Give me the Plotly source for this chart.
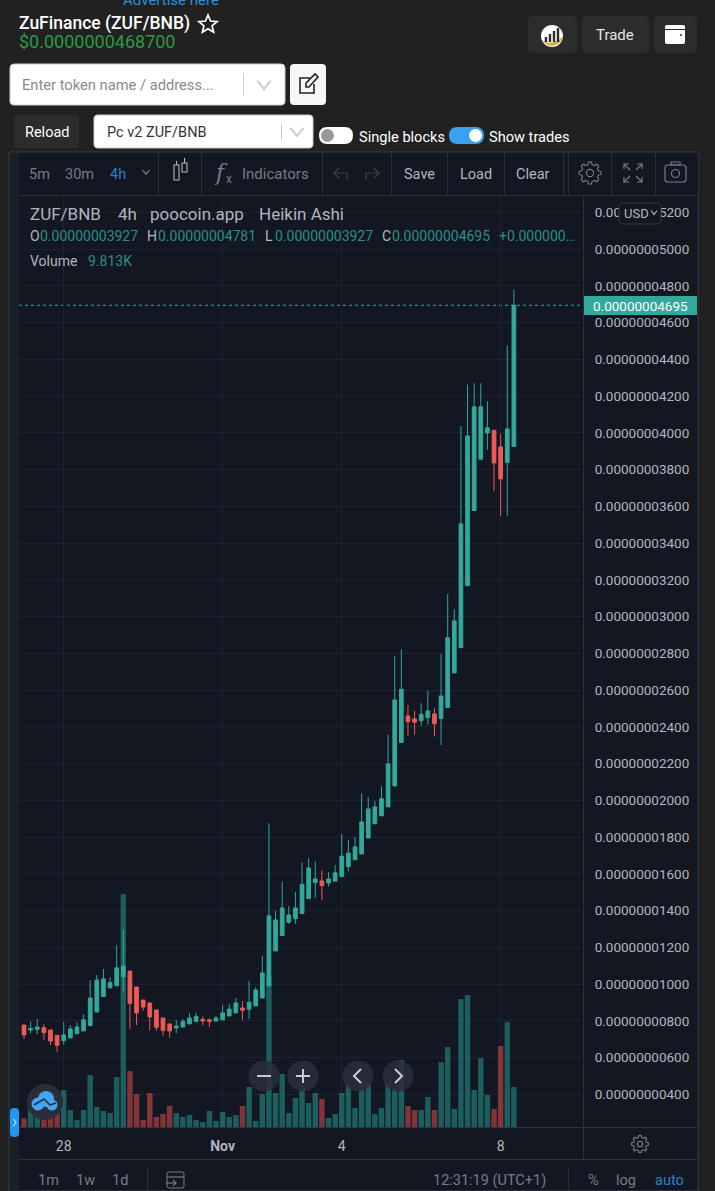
import math
import plotly.graph_objects as go

W, H = 715, 1191

# Prices in units of 1e-11 BNB, one candle every 4h
candle_open = [778, 751, 755, 764, 751, 722, 693, 708, 731, 746, 775, 849, 933, 980, 992, 1041, 1072, 985, 914, 898,
               860, 816, 784, 762, 767, 784, 798, 809, 806, 800, 806, 827, 844, 871, 864, 882, 925, 991, 1181, 1265,
               1337, 1356, 1385, 1466, 1553, 1562, 1551, 1561, 1586, 1640, 1677, 1709, 1796, 1873, 1916, 1965, 2079,
               2315, 2460, 2444, 2435, 2451, 2471, 2446, 2506, 2694, 2832, 3169, 3578, 3857, 4000, 4015, 3924, 3839,
               3927]
candle_high = [778, 797, 811, 782, 751, 722, 793, 778, 793, 836, 1023, 1050, 1083, 1038, 1212, 1295, 1072, 985, 914,
               898, 860, 816, 784, 806, 811, 842, 845, 824, 815, 827, 887, 893, 925, 909, 1018, 983, 1154, 1876, 1401,
               1559, 1426, 1502, 1662, 1686, 1668, 1619, 1610, 1649, 1816, 1785, 1800, 2039, 2018, 1998, 2076, 2357,
               2787, 2823, 2520, 2487, 2529, 2596, 2502, 2798, 3124, 3041, 4038, 4263, 4271, 4271, 4173, 4015, 3995,
               4477, 4781]
candle_low = [702, 733, 729, 697, 670, 631, 670, 708, 731, 746, 775, 849, 933, 980, 992, 960, 757, 778, 856, 749,
              747, 720, 708, 733, 767, 784, 798, 775, 767, 800, 806, 827, 844, 806, 811, 882, 925, 991, 1181, 1265,
              1328, 1327, 1385, 1466, 1470, 1459, 1532, 1561, 1586, 1613, 1677, 1709, 1796, 1873, 1916, 1965, 2079,
              2315, 2351, 2357, 2406, 2413, 2348, 2302, 2506, 2694, 2832, 3169, 3578, 3857, 3908, 3683, 3549, 3549,
              3927]
candle_close = [724, 760, 767, 737, 691, 668, 724, 757, 767, 806, 925, 1023, 1029, 1009, 1089, 1099, 896, 844, 876,
                822, 766, 749, 746, 773, 797, 816, 824, 800, 798, 816, 844, 865, 898, 858, 902, 969, 1061, 1372, 1350,
                1415, 1377, 1415, 1544, 1633, 1573, 1537, 1573, 1606, 1697, 1713, 1747, 1883, 1954, 1965, 2009, 2199,
                2547, 2605, 2429, 2426, 2469, 2487, 2417, 2569, 2885, 2977, 3505, 3984, 4142, 4142, 4028, 3837, 3750,
                4022, 4695]

# Volume in thousands
volumes = [2.13, 4.41, 3.68, 1.96, 2.21, 3.43, 9.07, 4.17, 1.72, 4.17, 12.74, 4.9, 3.92, 3.43, 12.25, 57.1, 13.72,
           8.09, 1.72, 8.33, 2.45, 3.19, 5.15, 3.43, 2.45, 2.94, 1.72, 1.23, 3.92, 1.47, 3.68, 2.45, 2.94, 5.15, 9.81,
           1.47, 8.09, 36.8, 8.33, 13.0, 3.43, 7.11, 10.5, 5.88, 8.33, 6.86, 2.21, 3.19, 8.33, 10.3, 4.66, 11.5, 11.0,
           3.19, 4.66, 10.8, 9.56, 16.4, 5.15, 4.17, 4.17, 7.36, 4.17, 15.9, 19.6, 4.41, 31.4, 32.4, 9.07, 16.9, 7.85,
           4.41, 19.9, 25.7, 9.813]
volume_down = [0, 3, 4, 5, 16, 17, 18, 19, 20, 21, 22, 33, 45, 58, 59, 62, 71, 72]

price_ticks = list(range(400, 5400, 200))
date_ticks = [6, 30, 48, 72]
date_labels = ['28', '<b>Nov</b>', '4', '8']

BG = '#212121'
PANEL = '#131722'
GRID = '#1f2330'
SEP = '#2a2e39'
TEXT = '#b2b5be'
DIM = '#787b86'
UP = '#33a89b'
DOWN = '#ee5a56'
BLUE = '#2a7fd0'
FONT = 'Roboto'

shapes = []
labels = []


def pt(x, y):
    return f'{x / W:.5f} {1 - y / H:.5f}'


def path(d, fill=None, line=None, width=1.2, layer='above'):
    shapes.append(dict(type='path', path=d, xref='paper', yref='paper', layer=layer,
                       fillcolor=fill or 'rgba(0,0,0,0)', line=dict(color=line or 'rgba(0,0,0,0)', width=width)))


def poly(points, fill=None, line=None, width=1.2, close=False):
    d = 'M' + ' L'.join(pt(x, y) for x, y in points) + (' Z' if close else '')
    path(d, fill, line, width)


def box(x0, y0, x1, y1, fill=None, line=None, radius=0, width=1, layer='above'):
    r = radius
    d = (f'M{pt(x0 + r, y0)} L{pt(x1 - r, y0)} Q{pt(x1, y0)} {pt(x1, y0 + r)} L{pt(x1, y1 - r)} '
         f'Q{pt(x1, y1)} {pt(x1 - r, y1)} L{pt(x0 + r, y1)} Q{pt(x0, y1)} {pt(x0, y1 - r)} '
         f'L{pt(x0, y0 + r)} Q{pt(x0, y0)} {pt(x0 + r, y0)} Z')
    path(d, fill, line, width, layer)


def circle(cx, cy, r, fill=None, line=None, width=1):
    shapes.append(dict(type='circle', xref='paper', yref='paper', layer='above',
                       x0=(cx - r) / W, x1=(cx + r) / W, y0=1 - (cy + r) / H, y1=1 - (cy - r) / H,
                       fillcolor=fill or 'rgba(0,0,0,0)', line=dict(color=line or 'rgba(0,0,0,0)', width=width)))


def label(text, x, y, size=14, color=TEXT, anchor='left', weight=400, family=FONT):
    labels.append(dict(text=text, x=x / W, y=1 - y / H, xref='paper', yref='paper', showarrow=False,
                       xanchor=anchor, yanchor='middle', borderpad=0,
                       font=dict(family=family, size=size, color=color, weight=weight)))


def chevron(cx, cy, w, h, color, width=1.5):
    poly([(cx - w, cy - h), (cx, cy + h), (cx + w, cy - h)], line=color, width=width)


def gear(cx, cy, r, color):
    points = []
    for k in range(48):
        rad = r if k % 6 in (0, 1, 2) else r * 0.78
        a = 2 * math.pi * (k - 1) / 48
        points.append((cx + rad * math.cos(a), cy + rad * math.sin(a)))
    poly(points, line=color, width=1.1, close=True)
    circle(cx, cy, r * 0.33, line=color, width=1.1)


def star(cx, cy, r, color):
    points = []
    for k in range(10):
        rad = r if k % 2 == 0 else r * 0.45
        a = -math.pi / 2 + k * math.pi / 5
        points.append((cx + rad * math.cos(a), cy + rad * math.sin(a)))
    poly(points, line=color, width=1.7, close=True)


# chart frame, behind the traces
box(9, 152, 698, 1191, fill=PANEL, line='#3a3e48', layer='below')
box(10, 153, 19, 1191, fill='#1a2029', layer='below')

# page header
label('Advertise here', 122, 0, 15, '#2f8fd8')
label('ZuFinance (ZUF/BNB)', 18, 24, 17.5, 'white', weight=500)
star(208, 24.5, 9.5, 'white')
label('$0.0000000468700', 18, 42, 18, '#2c9a45')
box(528, 16, 577, 53, fill='#2c2c2c', radius=5)
box(582, 16, 649, 53, fill='#2c2c2c', radius=5)
box(654, 16, 697, 53, fill='#2c2c2c', radius=5)
circle(552, 36, 11, fill='white')
path(f'M{pt(542, 40)} Q{pt(552, 52)} {pt(562, 40)} L{pt(563, 36)} Q{pt(558, 42)} {pt(549, 43)} Z', fill='#d9ad3c')
for bar_x, bar_top in [(546, 37), (550, 34), (554, 31), (558, 28)]:
    box(bar_x - 1.2, bar_top, bar_x + 1.2, 42, fill='#2c2c2c')
label('Trade', 615, 35, 15, '#e6e6e6', 'center')
box(665, 25, 685, 44, fill='white', radius=2)
box(665, 29, 685, 30, fill='#2c2c2c')
circle(681, 35, 1, fill='#2c2c2c')

# token search row
box(10, 64, 285, 105, fill='white', line='#cccccc', radius=4)
label('Enter token name / address...', 21, 85, 14.7, '#8a8a8a')
box(243, 73, 244, 96, fill='#cccccc')
chevron(264, 85, 6.5, 4, '#cccccc', 2)
box(290, 64, 326, 105, fill='#f5f6f8', radius=4)
poly([(310, 78), (300, 78), (300, 93), (314, 93), (314, 84)], line='#222222', width=1.6)
poly([(306, 87), (306, 83), (315, 74), (318, 77), (309, 87)], line='#222222', width=1.6, close=True)

# pair row
box(14, 115, 79, 148, fill='#2c2c2c', radius=4)
label('Reload', 47, 132, 14.5, 'white', 'center')
box(94, 115, 313, 148, fill='white', line='#cccccc', radius=4)
label('Pc v2 ZUF/BNB', 106, 132, 14.5, '#333333')
box(281, 124, 282, 140, fill='#cccccc')
chevron(297, 132, 6.5, 4, '#cccccc', 2)
box(319, 127, 353, 144, fill='white', radius=8.5)
circle(327.5, 135.5, 6.5, fill='#999999')
label('Single blocks', 358, 136.5, 14.6, 'white')
box(449, 127, 484, 144, fill='#3aa0f0', radius=8.5)
circle(475.5, 135.5, 6.5, fill='white')
label('Show trades', 488, 136.5, 14.6, 'white')

# top toolbar
box(19, 153, 698, 195, fill=PANEL)
box(19, 195, 698, 196, fill=SEP)
for sep_x in [158, 201, 322, 391, 447, 504, 563, 568, 611, 655]:
    box(sep_x, 153, sep_x + 1, 195, fill=SEP)
label('5m', 39, 174, 14.5, DIM, 'center')
label('30m', 79, 174, 14.5, DIM, 'center')
label('4h', 118, 174, 14.5, BLUE, 'center')
chevron(146, 172, 3.5, 2.2, DIM, 1.2)
box(174, 165, 179, 180, line=TEXT, width=1.1)
box(182, 163, 187, 172, line=TEXT, width=1.1)
box(176.5, 161, 176.6, 165, line=TEXT)
box(184.5, 158, 184.6, 163, line=TEXT)
label('<i>f</i>', 221, 172, 22, DIM, 'center', family='DejaVu Serif')
label('x', 229, 179, 12, DIM, 'center')
label('Indicators', 275, 174, 15, DIM, 'center')
for start, tip in [(347, 334), (366, 379)]:
    poly([(tip + (start - tip) * 0.4, 168), (tip, 173), (tip + (start - tip) * 0.4, 178)], line='#3c404b')
    path(f'M{pt(tip, 173)} L{pt(start, 173)} L{pt(start, 180)}', line='#3c404b')
label('Save', 419, 174, 14.5, TEXT, 'center')
label('Load', 476, 174, 14.5, TEXT, 'center')
label('Clear', 533, 174, 14.5, TEXT, 'center')
gear(590, 173, 11, DIM)
for sx, sy in [(-1, -1), (1, -1), (-1, 1), (1, 1)]:
    poly([(633 + sx * 9, 173 + sy * 4), (633 + sx * 9, 173 + sy * 9), (633 + sx * 4, 173 + sy * 9)], line=DIM)
    poly([(633 + sx * 9, 173 + sy * 9), (633 + sx * 3, 173 + sy * 3)], line=DIM)
box(665, 165, 686, 182, line=DIM, radius=3, width=1.2)
box(671, 162, 680, 165, line=DIM, width=1.1)
circle(675.5, 173.5, 4, line=DIM, width=1.2)

# pane legend
label('ZUF/BNB', 29, 214, 17, TEXT)
label('4h', 117, 214, 17, TEXT)
label('poocoin.app', 149, 214, 17, TEXT)
label('Heikin Ashi', 258, 214, 17, TEXT)
for letter, letter_x, value, value_x in [('O', 29, '0.00000003927', 39), ('H', 146, '0.00000004781', 157),
                                         ('L', 264, '0.00000003927', 274), ('C', 381, '0.00000004695', 391)]:
    label(letter, letter_x, 236, 14, TEXT)
    label(value, value_x, 236, 14, '#2b8f86')
label('+0.000000…', 498, 236, 14, '#2b8f86')
label('Volume', 29, 260.5, 14, TEXT)
label('9.813K', 87, 260.5, 14, '#2b8f86')

# price scale bits
box(619, 203, 661, 224, fill=PANEL, line='#363a45', radius=4)
label('USD', 636, 213, 13, TEXT, 'center')
chevron(654, 212.5, 3, 2, TEXT, 1.2)
box(583, 296, 697, 315, fill=UP)
label('0.00000004695', 592, 305.5, 13.5, 'white')
shapes.append(dict(type='line', xref='paper', yref='y2', layer='below', x0=19 / W, x1=583 / W,
                   y0=candle_close[-1], y1=candle_close[-1], line=dict(color=UP, width=1, dash='dot')))

# chart navigation buttons
for cx in [264, 303, 358, 398]:
    circle(cx, 1076, 15.5, fill='rgba(42,46,57,0.88)')
box(257, 1075, 271, 1077, fill='#c8cad0')
box(296, 1075, 310, 1077, fill='#c8cad0')
box(302, 1069, 304, 1083, fill='#c8cad0')
poly([(361, 1069), (354, 1076), (361, 1083)], line='#c8cad0', width=2)
poly([(395, 1069), (402, 1076), (395, 1083)], line='#c8cad0', width=2)

# tradingview logo button and side tab
circle(45, 1102, 18, fill='#2a2e39')
circle(38, 1104, 6.5, fill='#42a5f5')
circle(46, 1099, 8, fill='#42a5f5')
circle(52, 1105, 5.5, fill='#42a5f5')
poly([(34, 1105), (44, 1099), (50, 1105), (56, 1103)], line='#2a2e39', width=1.6)
box(10, 1108, 19, 1137, fill='#2196f3', radius=4)
poly([(13.5, 1119), (16, 1122.5), (13.5, 1126)], line='white', width=1)

# bottom strips
box(19, 1127, 698, 1128, fill='#2e323d')
box(19, 1159, 698, 1160, fill='#2e323d')
box(583, 195, 584, 1159, fill='#2e323d')
gear(640, 1144, 8.5, DIM)
label('1m', 48, 1180, 14.5, DIM, 'center')
label('1w', 85, 1180, 14.5, DIM, 'center')
label('1d', 120, 1180, 14.5, DIM, 'center')
box(147, 1168, 148, 1191, fill=SEP)
box(167, 1172, 184, 1188, line=DIM, radius=2)
poly([(167, 1177), (184, 1177)], line=DIM)
poly([(166, 1183), (176, 1183)], line=DIM)
poly([(173, 1180), (176, 1183), (173, 1186)], line=DIM)
label('12:31:19 (UTC+1)', 489, 1180, 14.5, DIM, 'center')
box(568, 1168, 569, 1191, fill=SEP)
label('%', 593, 1180, 14.5, DIM, 'center')
label('log', 626, 1180, 14.5, DIM, 'center')
label('auto', 669, 1180, 14.5, BLUE, 'center')

candle_index = list(range(len(candle_close)))
volume_colors = ['rgba(239,83,80,0.5)' if i in volume_down else 'rgba(38,166,154,0.5)' for i in candle_index]

fig = go.Figure()
fig.add_bar(x=candle_index, y=volumes, width=0.82, marker=dict(color=volume_colors, line=dict(width=0)),
            yaxis='y', hoverinfo='skip')
fig.add_candlestick(x=candle_index, open=candle_open, high=candle_high, low=candle_low, close=candle_close,
                    yaxis='y2', whiskerwidth=0,
                    increasing=dict(line=dict(color=UP, width=1), fillcolor=UP),
                    decreasing=dict(line=dict(color=DOWN, width=1), fillcolor=DOWN))

fig.update_layout(
    width=W, height=H, margin=dict(l=0, r=0, t=0, b=0), autosize=False,
    paper_bgcolor=BG, plot_bgcolor=PANEL, showlegend=False, boxgap=0.2,
    font=dict(family=FONT, color=TEXT),
    xaxis=dict(domain=[19 / W, 583 / W], range=[-0.755, 84.44], tickvals=date_ticks, ticktext=date_labels,
               showgrid=True, gridcolor=GRID, gridwidth=1, zeroline=False, rangeslider=dict(visible=False),
               ticks='outside', ticklen=6, tickcolor='rgba(0,0,0,0)', tickfont=dict(size=14, color=TEXT)),
    # volume sits on the base axis so that candles draw over it
    yaxis=dict(domain=[1 - 1127 / H, 1 - 195 / H], range=[0, 228.6], visible=False, showgrid=False),
    yaxis2=dict(overlaying='y', side='right', anchor='x', range=[223, 5295], tickvals=price_ticks,
                ticktext=[f'{v * 1e-11:.11f}' for v in price_ticks], showgrid=True, gridcolor=GRID, gridwidth=1,
                zeroline=False, ticks='outside', ticklen=8, tickcolor='rgba(0,0,0,0)',
                tickfont=dict(size=13.5, color=TEXT)),
    shapes=shapes, annotations=labels,
)

fig.write_html('out.html', config=dict(displayModeBar=False),
               post_script="document.body.style.margin='0';document.body.style.overflow='hidden';")
